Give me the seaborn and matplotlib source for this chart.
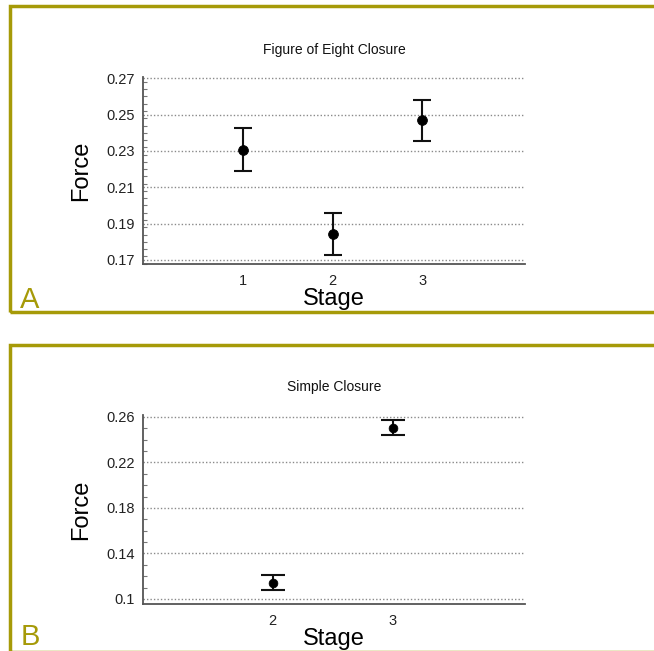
import matplotlib
matplotlib.use("Agg")
import matplotlib.pyplot as plt
import seaborn as sns
import pandas as pd
from matplotlib.patches import Rectangle
from matplotlib.ticker import FixedLocator, MultipleLocator

# ---- data ----
stages_a = [1, 2, 3]
force_a = [0.2307, 0.1843, 0.2468]
err_a = [0.0120, 0.0114, 0.0115]
yticks_a = [0.17, 0.19, 0.21, 0.23, 0.25, 0.27]
ylabels_a = ["0.17", "0.19", "0.21", "0.23", "0.25", "0.27"]
xticks_a = [1, 2, 3]

stages_b = [2, 3]
force_b = [0.1144, 0.2506]
err_b = [0.0066, 0.0063]
yticks_b = [0.10, 0.14, 0.18, 0.22, 0.26]
ylabels_b = ["0.1", "0.14", "0.18", "0.22", "0.26"]
xticks_b = [2, 3]

titles = ["Figure of Eight Closure", "Simple Closure"]
panel_letters = ["A", "B"]

sns.set_style("white")
plt.rcParams["font.family"] = ["Liberation Sans", "DejaVu Sans"]

W, H = 654, 651
fig = plt.figure(figsize=(W / 100, H / 100), dpi=100)

OLIVE = "#A69A08"


def frac_rect(x0, y0, x1, y1):
    return [x0 / W, 1 - y1 / H, (x1 - x0) / W, (y1 - y0) / H]


def panel(rect, stages, force, err, yticks, ylabels, xticks, xlim, ylim,
          minor, title, capsize, msize):
    ax = fig.add_axes(frac_rect(*rect))
    df = pd.DataFrame({"Stage": stages, "Force": force})
    ax.errorbar(stages, force, yerr=err, fmt="none", ecolor="#111111",
                elinewidth=1.5, capsize=capsize, capthick=1.5, zorder=3)
    sns.scatterplot(data=df, x="Stage", y="Force", ax=ax, color="black",
                    s=msize, edgecolor="black", zorder=4, legend=False)
    ax.set_xlim(*xlim)
    ax.set_ylim(*ylim)
    ax.yaxis.set_major_locator(FixedLocator(yticks))
    ax.set_yticklabels(ylabels)
    ax.yaxis.set_minor_locator(MultipleLocator(minor))
    ax.set_xticks(xticks)
    ax.set_xticklabels([str(x) for x in xticks])
    ax.grid(axis="y", which="major", linestyle=(0, (1, 1.5)), color="#8a8a8a",
            linewidth=1.0, zorder=1)
    for s in ["top", "right"]:
        ax.spines[s].set_visible(False)
    for s in ["left", "bottom"]:
        ax.spines[s].set_color("#555555")
        ax.spines[s].set_linewidth(1.3)
    ax.tick_params(axis="y", which="major", direction="in", length=5,
                   width=1, color="#555555", labelsize=10.5, labelcolor="#222222",
                   pad=6)
    ax.tick_params(axis="y", which="minor", direction="in", length=3,
                   width=0.8, color="#777777", left=True)
    ax.tick_params(axis="x", which="both", length=0, labelsize=10.5,
                   labelcolor="#222222", pad=7)
    ax.set_title(title, fontsize=10, color="#111111", pad=17)
    ax.set_xlabel("Stage", fontsize=17, color="#000000", va="center")
    ax.set_ylabel("Force", fontsize=17, color="#000000", va="center")
    h = rect[3] - rect[1]
    wd = rect[2] - rect[0]
    ax.xaxis.set_label_coords(0.5, -35 / h)
    ax.yaxis.set_label_coords((81 - rect[0]) / wd, 0.5)
    return ax


panel((143, 77.4, 525, 264.3), stages_a, force_a, err_a, yticks_a, ylabels_a,
      xticks_a, (-0.12, 4.15), (0.1676, 0.2705), 0.004, titles[0], 6.5, 50)
panel((143, 415, 525, 604), stages_b, force_b, err_b, yticks_b, ylabels_b,
      xticks_b, (0.922, 4.10), (0.0956, 0.2617), 0.01, titles[1], 8.3, 40)

# olive panel frames and letters
for (y0, y1), letter, ly in zip([(6, 312), (345, 652)], panel_letters, [300, 637]):
    fig.patches.append(Rectangle((10 / W, 1 - y1 / H), (W + 20) / W, (y1 - y0) / H,
                                 transform=fig.transFigure, fill=False,
                                 edgecolor=OLIVE, linewidth=2.5, clip_on=False))
    fig.text(30 / W, 1 - ly / H, letter, color=OLIVE, fontsize=21,
             ha="center", va="center")

fig.savefig("out.png", dpi=100)
